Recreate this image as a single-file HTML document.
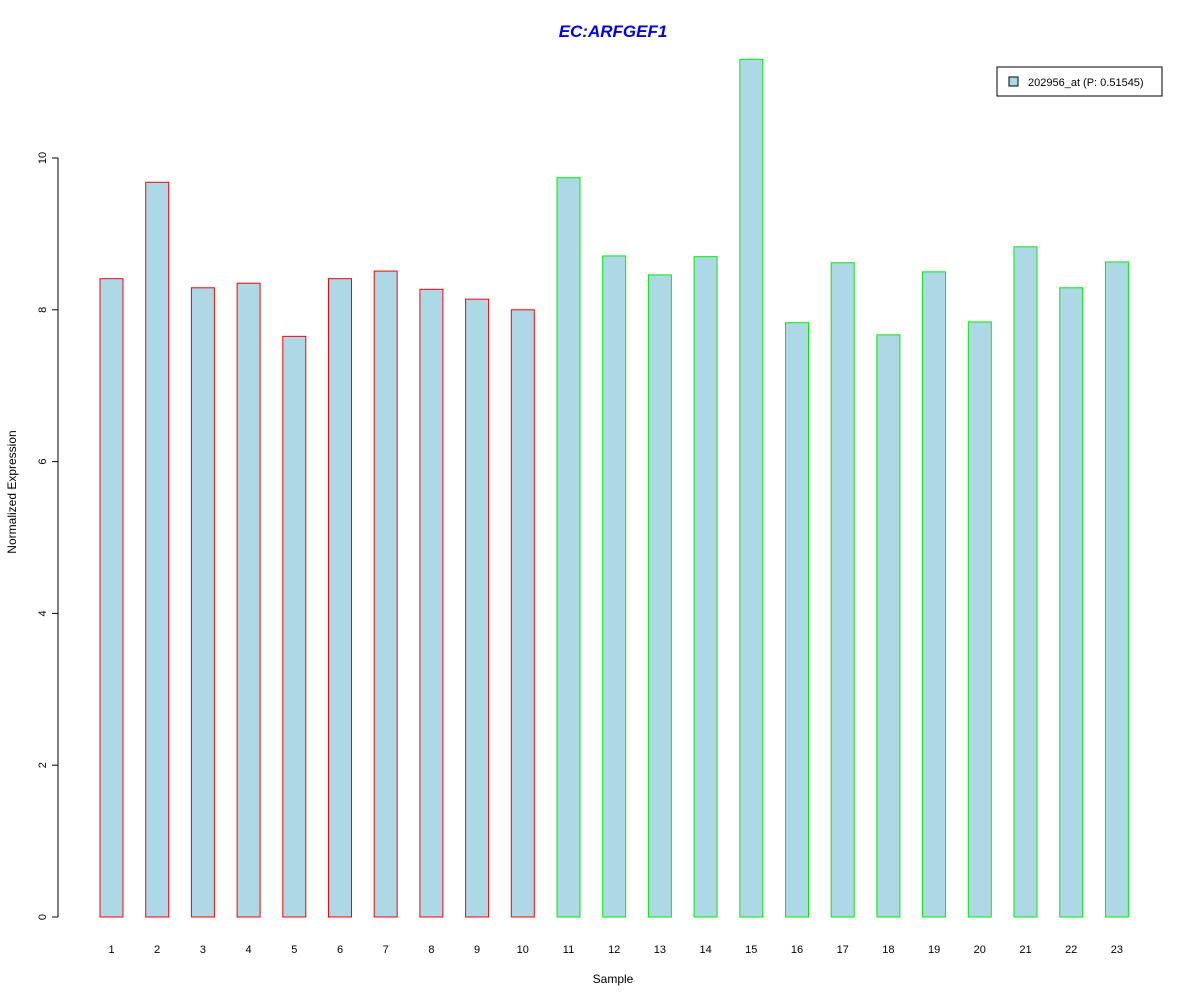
<!DOCTYPE html>
<html><head><meta charset="utf-8"><style>body{margin:0;background:#fff}svg{display:block;font-family:"Liberation Sans",Arial,sans-serif}</style></head>
<body>
<svg id="c" width="1200" height="1000">
<text x="613" y="37" text-anchor="middle" font-size="17" font-weight="bold" font-style="italic" fill="#0000ee">EC:ARFGEF1</text>
<text x="613" y="983" text-anchor="middle" font-size="12">Sample</text>
<text transform="translate(16,492) rotate(-90)" text-anchor="middle" font-size="12">Normalized Expression</text>
<g>
<rect x="997" y="67" width="165" height="29" fill="#fff" stroke="#000"/>
<rect x="1009" y="77" width="9" height="9" fill="#add8e6" stroke="#000"/>
<text x="1028" y="86" font-size="11">202956_at (P: 0.51545)</text>
</g>
<g id="ya"></g>
<g id="bars"></g>
<g id="xl"></g>
</svg>
<script>
const categories=["1","2","3","4","5","6","7","8","9","10","11","12","13","14","15","16","17","18","19","20","21","22","23"];
const values=[8.41,9.68,8.29,8.35,7.65,8.41,8.51,8.27,8.14,8.0,9.74,8.71,8.46,8.70,11.30,7.83,8.62,7.67,8.50,7.84,8.83,8.29,8.63];
const groups=["red","red","red","red","red","red","red","red","red","red","green","green","green","green","green","green","green","green","green","green","green","green","green"];
const yTicks=[0,2,4,6,8,10];
const NS="http://www.w3.org/2000/svg";
const y=v=>917-v*75.9;
const x=i=>111.5+i*45.7;
function mk(t,a,p){const e=document.createElementNS(NS,t);for(const k in a)e.setAttribute(k,a[k]);p.appendChild(e);return e;}
const ya=document.getElementById('ya');
mk('line',{x1:58,x2:58,y1:y(yTicks[0]),y2:y(yTicks[yTicks.length-1]),stroke:'#000'},ya);
yTicks.forEach(t=>{
 const l=mk('line',{x1:52,x2:58,y1:y(t),y2:y(t),stroke:'#000'},ya);
 
 
 const tx=mk('text',{transform:`translate(46,${y(t)}) rotate(-90)`,'text-anchor':'middle','font-size':11},ya);
 tx.textContent=t;
 
 
});
const bg=document.getElementById('bars'),xl=document.getElementById('xl');
values.forEach((v,i)=>{
 const r=mk('rect',{x:x(i)-11.5,y:y(v),width:23,height:y(0)-y(v),fill:'#add8e6',stroke:groups[i]==='red'?'#ff0000':'#00ee00'},bg);
 
 
 const t=mk('text',{x:x(i),y:953,'text-anchor':'middle','font-size':11},xl);
 t.textContent=categories[i];
 
 
});
</script>
</body></html>
